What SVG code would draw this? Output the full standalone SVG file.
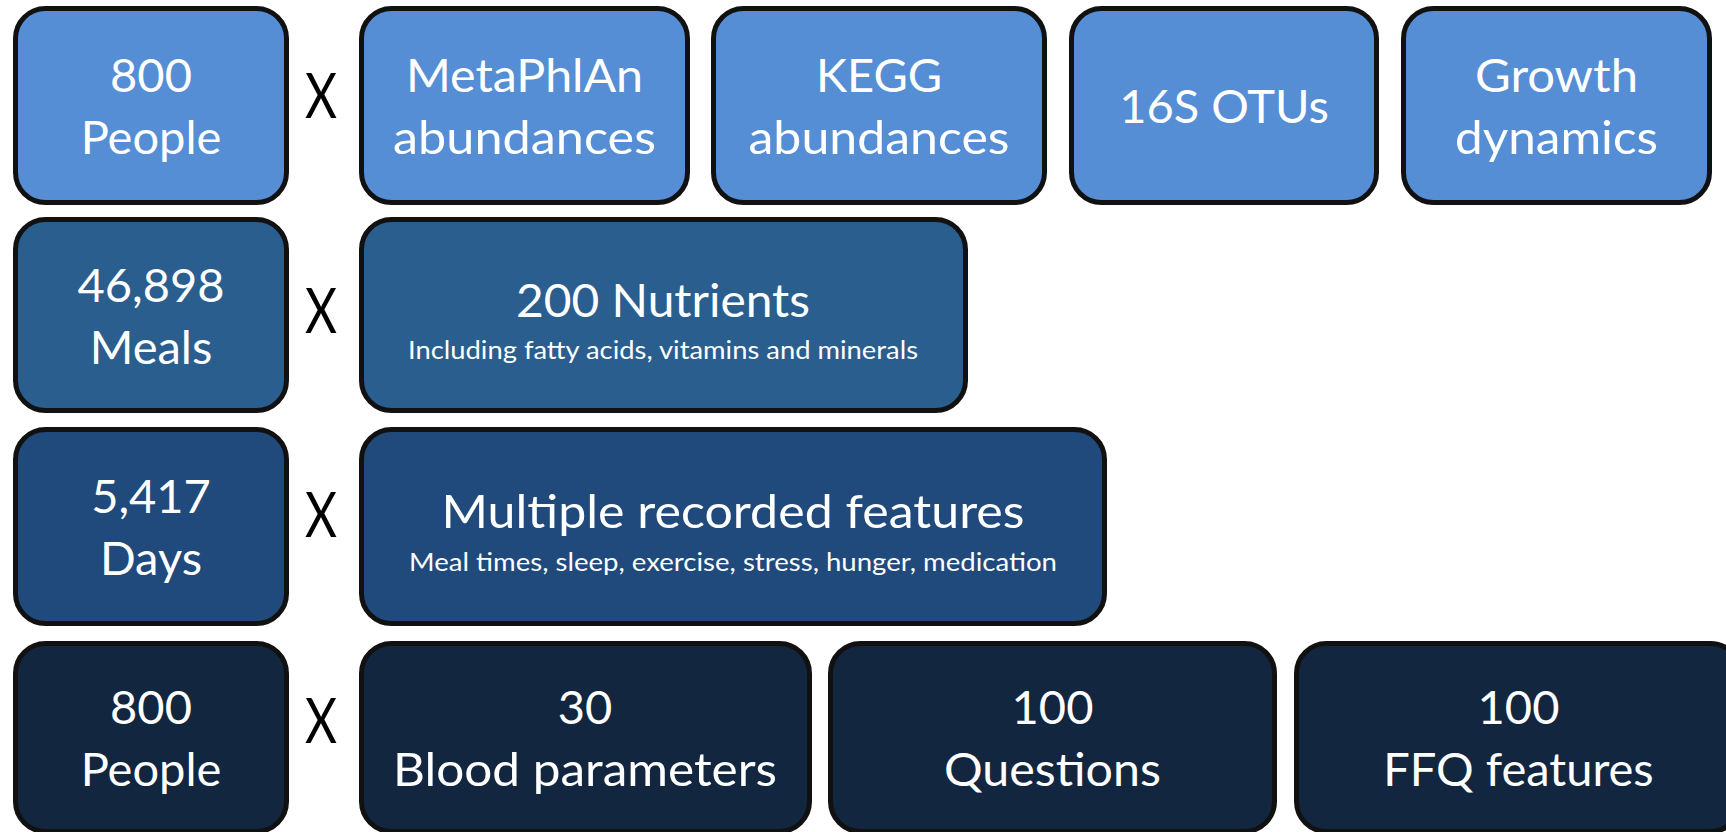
<svg xmlns="http://www.w3.org/2000/svg" width="1726" height="832" viewBox="0 0 1726 832">
  <style>
    .box { stroke: #111111; stroke-width: 5; }
    .r1 { fill: #558ED5; }
    .r2 { fill: #295E8F; }
    .r3 { fill: #1F4A7B; }
    .r4 { fill: #132640; }
    text { font-family: Lato, "Open Sans", "Liberation Sans", sans-serif; text-anchor: middle; }
    .lbl { fill: #FFFFFF; font-size: 47px; }
    .sub { fill: #FFFFFF; font-size: 25px; }
    .op { fill: #000000; font-size: 62px; }
  </style>
  <rect width="1726" height="832" fill="#FFFFFF"/>

  <!-- Row 1: microbiome profiles per person -->
  <g id="people-microbiome">
    <rect class="box r1" x="15.5" y="8.5" width="271" height="194" rx="30"/>
    <text class="lbl" x="151" y="92">800</text>
    <text class="lbl" x="151" y="154">People</text>
  </g>
  <g id="metaphlan">
    <rect class="box r1" x="361.5" y="8.5" width="326" height="194" rx="30"/>
    <text class="lbl" x="524.5" y="92" textLength="237" lengthAdjust="spacingAndGlyphs">MetaPhlAn</text>
    <text class="lbl" x="524.5" y="154" textLength="263" lengthAdjust="spacingAndGlyphs">abundances</text>
  </g>
  <g id="kegg">
    <rect class="box r1" x="713.5" y="8.5" width="331" height="194" rx="30"/>
    <text class="lbl" x="879" y="92">KEGG</text>
    <text class="lbl" x="879" y="154" textLength="261" lengthAdjust="spacingAndGlyphs">abundances</text>
  </g>
  <g id="otus">
    <rect class="box r1" x="1071.5" y="8.5" width="305" height="194" rx="30"/>
    <text class="lbl" x="1224" y="123">16S OTUs</text>
  </g>
  <g id="growth">
    <rect class="box r1" x="1403.5" y="8.5" width="306" height="194" rx="30"/>
    <text class="lbl" x="1556.5" y="92" textLength="163" lengthAdjust="spacingAndGlyphs">Growth</text>
    <text class="lbl" x="1556.5" y="154" textLength="203" lengthAdjust="spacingAndGlyphs">dynamics</text>
  </g>

  <!-- Row 2: meals -->
  <g id="meals">
    <rect class="box r2" x="15.5" y="219.5" width="271" height="191" rx="30"/>
    <text class="lbl" x="151" y="301.5">46,898</text>
    <text class="lbl" x="151" y="363.5">Meals</text>
  </g>
  <g id="nutrients">
    <rect class="box r2" x="361.5" y="219.5" width="604" height="191" rx="30"/>
    <text class="lbl" x="663" y="317" textLength="294" lengthAdjust="spacingAndGlyphs">200 Nutrients</text>
    <text class="sub" x="663" y="359" textLength="510" lengthAdjust="spacingAndGlyphs">Including fatty acids, vitamins and minerals</text>
  </g>

  <!-- Row 3: days -->
  <g id="days">
    <rect class="box r3" x="15.5" y="429.5" width="271" height="194" rx="30"/>
    <text class="lbl" x="151" y="513">5,417</text>
    <text class="lbl" x="151" y="575">Days</text>
  </g>
  <g id="recorded-features">
    <rect class="box r3" x="361.5" y="429.5" width="743" height="194" rx="30"/>
    <text class="lbl" x="733" y="528" textLength="583" lengthAdjust="spacingAndGlyphs">Multiple recorded features</text>
    <text class="sub" x="733" y="570.5" textLength="648" lengthAdjust="spacingAndGlyphs">Meal times, sleep, exercise, stress, hunger, medication</text>
  </g>

  <!-- Row 4: clinical and questionnaire data -->
  <g id="people-clinical">
    <rect class="box r4" x="15.5" y="643.5" width="271" height="188" rx="30"/>
    <text class="lbl" x="151" y="724">800</text>
    <text class="lbl" x="151" y="786">People</text>
  </g>
  <g id="blood">
    <rect class="box r4" x="361.5" y="643.5" width="448" height="188" rx="30"/>
    <text class="lbl" x="585" y="724">30</text>
    <text class="lbl" x="585" y="786" textLength="384" lengthAdjust="spacingAndGlyphs">Blood parameters</text>
  </g>
  <g id="questions">
    <rect class="box r4" x="830.5" y="643.5" width="444" height="188" rx="30"/>
    <text class="lbl" x="1052.5" y="724">100</text>
    <text class="lbl" x="1052.5" y="786" textLength="217" lengthAdjust="spacingAndGlyphs">Questions</text>
  </g>
  <g id="ffq">
    <rect class="box r4" x="1296.5" y="643.5" width="444" height="188" rx="30"/>
    <text class="lbl" x="1518.5" y="724">100</text>
    <text class="lbl" x="1518.5" y="786">FFQ features</text>
  </g>

  <!-- multiplication signs between each count and its feature set -->
  <g id="times">
    <text class="op" x="321" y="118" textLength="32" lengthAdjust="spacingAndGlyphs">X</text>
    <text class="op" x="321" y="333" textLength="32" lengthAdjust="spacingAndGlyphs">X</text>
    <text class="op" x="321" y="537" textLength="32" lengthAdjust="spacingAndGlyphs">X</text>
    <text class="op" x="321" y="743" textLength="32" lengthAdjust="spacingAndGlyphs">X</text>
  </g>
</svg>
